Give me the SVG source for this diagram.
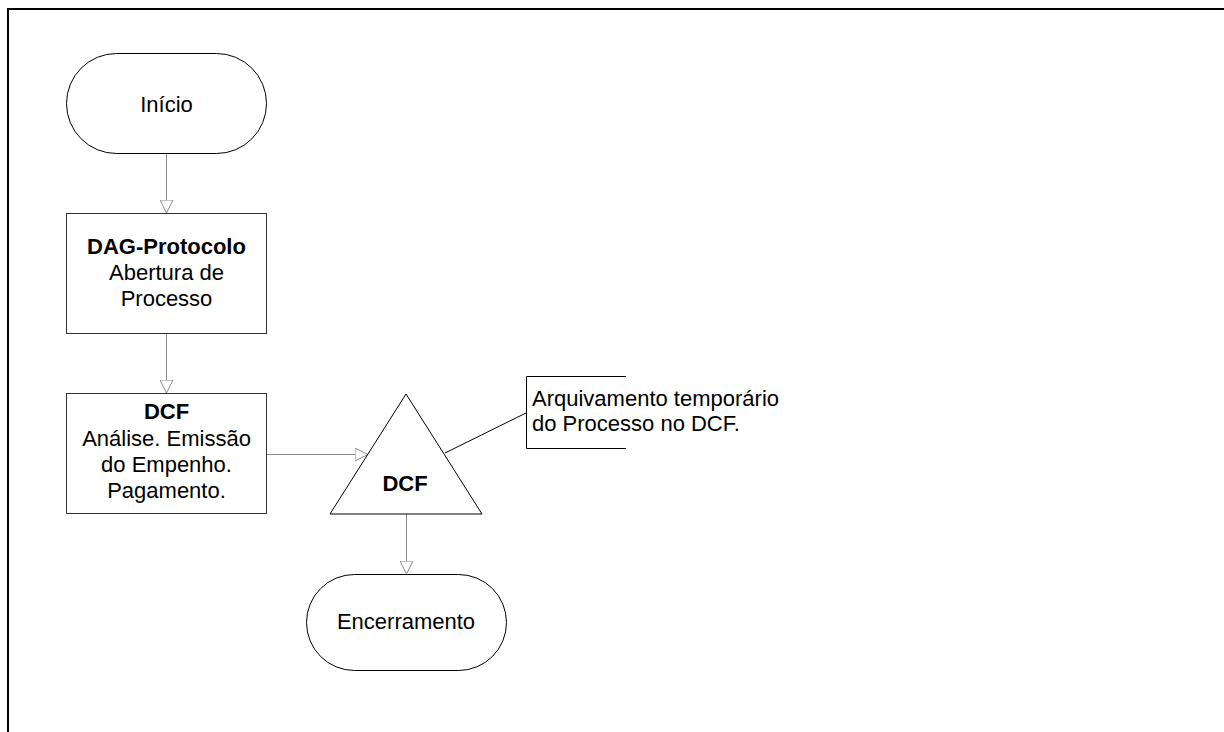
<svg xmlns="http://www.w3.org/2000/svg" width="1224" height="732" viewBox="0 0 1224 732">
<style>
text{font-family:"Liberation Sans",Arial,sans-serif;font-size:22px;fill:#000}
.b{font-weight:bold}
.c{text-anchor:middle}
.shape{fill:#fff;stroke:#000;stroke-width:1}
.box{fill:#fff;stroke:#333;stroke-width:1}
.conn{fill:none;stroke:#8a8a8a;stroke-width:1}
.call{fill:none;stroke:#000;stroke-width:1}
</style>
<defs>
<marker id="arr" viewBox="0 0 14 14" refX="13.5" refY="7" markerWidth="14" markerHeight="14" markerUnits="userSpaceOnUse" orient="auto">
<path d="M0.5,0.5 L13.5,7 L0.5,13.5 Z" fill="#fff" stroke="#8a8a8a" stroke-width="1"/>
</marker>
</defs>
<rect width="1224" height="732" fill="#fff"/>
<g id="frame">
<line x1="8" y1="9" x2="1224" y2="9" stroke="#000" stroke-width="2"/>
<line x1="8" y1="8" x2="8" y2="732" stroke="#000" stroke-width="2"/>
</g>
<g id="connectors">
<line class="conn" x1="166.5" y1="154" x2="166.5" y2="213" marker-end="url(#arr)"/>
<line class="conn" x1="166.5" y1="334" x2="166.5" y2="393" marker-end="url(#arr)"/>
<line class="conn" x1="266" y1="454.5" x2="368" y2="454.5" marker-end="url(#arr)"/>
<line class="conn" x1="406.5" y1="514" x2="406.5" y2="574" marker-end="url(#arr)"/>
<line class="call" x1="445" y1="453" x2="526" y2="413"/>
</g>
<g id="inicio">
<rect class="shape" x="66.5" y="53.5" width="200" height="100" rx="50" ry="50"/>
<text class="c" x="166.5" y="112">Início</text>
</g>
<g id="dag-protocolo">
<rect class="box" x="66.5" y="213.5" width="200" height="120"/>
<text class="c b" x="166.5" y="254">DAG-Protocolo</text>
<text class="c" x="166.5" y="280">Abertura de</text>
<text class="c" x="166.5" y="306">Processo</text>
</g>
<g id="dcf-analise">
<rect class="box" x="66.5" y="393.5" width="200" height="120"/>
<text class="c b" x="166.5" y="419">DCF</text>
<text class="c" x="166.5" y="446">Análise. Emissão</text>
<text class="c" x="166.5" y="472">do Empenho.</text>
<text class="c" x="166.5" y="498">Pagamento.</text>
</g>
<g id="dcf-arquivo">
<polygon class="shape" points="406,394 482,514 330,514"/>
<text class="c b" x="405" y="491">DCF</text>
</g>
<g id="nota">
<path class="call" d="M626,376.5 H526.5 V448.5 H626"/>
<text x="532" y="406">Arquivamento temporário</text>
<text x="532" y="431">do Processo no DCF.</text>
</g>
<g id="encerramento">
<rect class="shape" x="306.5" y="574.5" width="200" height="96" rx="48" ry="48"/>
<text class="c" x="406" y="629">Encerramento</text>
</g>
</svg>
